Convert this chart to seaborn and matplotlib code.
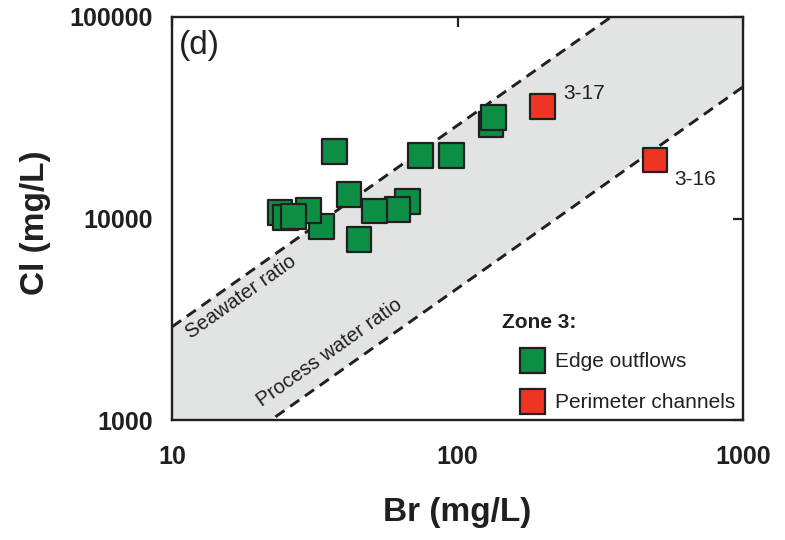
import numpy as np
import pandas as pd
import matplotlib
matplotlib.use("Agg")
import matplotlib.pyplot as plt
import seaborn as sns
from matplotlib.lines import Line2D

# -------------------------
# Data
# -------------------------
EDGE_BR = [37.2, 74.1, 95.5, 41.7, 66.8, 61.8, 51.1, 45.2, 33.3, 30.1,
           23.9, 24.9, 26.6, 131, 134]
EDGE_CL = [21400, 20500, 20500, 13100, 12100, 11100, 10900, 7890, 9100, 11000,
           10700, 10100, 10200, 29400, 31600]

PERIM_BR = [199, 492]
PERIM_CL = [36100, 19500]
PERIM_LABELS = ["3-17", "3-16"]

GROUPS = ["Edge outflows", "Perimeter channels"]
COLORS = {"Edge outflows": "#0c8e44", "Perimeter channels": "#ee3524"}

SEAWATER_RATIO = 290
PROCESS_RATIO = 45
BR_RANGE = [10, 1000]
CL_RANGE = [1000, 100000]

X_TICKS = [10, 100, 1000]
Y_TICKS = [1000, 10000, 100000]

INK = "#231f20"


# -------------------------
# Build table
# -------------------------
def build_frame():

    edge = pd.DataFrame({"Br": EDGE_BR, "Cl": EDGE_CL, "group": GROUPS[0]})
    perim = pd.DataFrame({"Br": PERIM_BR, "Cl": PERIM_CL, "group": GROUPS[1]})

    return pd.concat([edge, perim], ignore_index=True)


# -------------------------
# Plot
# -------------------------
def main():

    sns.set_style("white")
    plt.rcParams["font.family"] = ["Liberation Sans", "DejaVu Sans"]
    plt.rcParams["text.color"] = INK

    df = build_frame()

    fig = plt.figure(figsize=(7.85, 5.40), dpi=100)
    ax = fig.add_axes([172 / 785, 120 / 540, 571 / 785, 403 / 540])

    ax.set_xscale("log")
    ax.set_yscale("log")
    ax.set_xlim(BR_RANGE)
    ax.set_ylim(CL_RANGE)

    # ratio band
    br = np.array(BR_RANGE, dtype=float)
    ax.fill_between(br, PROCESS_RATIO * br, SEAWATER_RATIO * br,
                    color="#e2e3e3", lw=0, zorder=1)
    for ratio in [SEAWATER_RATIO, PROCESS_RATIO]:
        ax.plot(br, ratio * br, color=INK, lw=2.1, ls=(0, (3.8, 2.4)), zorder=2)

    # rotation of the ratio lines on screen
    angle = np.degrees(np.arctan((403 / 2) / (571 / 2)))
    ax.text(17.5, 4080, "Seawater ratio", rotation=angle, fontsize=14.5,
            ha="center", va="center", rotation_mode="anchor", color=INK)
    ax.text(35.7, 2156, "Process water ratio", rotation=angle, fontsize=14.5,
            ha="center", va="center", rotation_mode="anchor", color=INK)

    sns.scatterplot(
        data=df, x="Br", y="Cl", hue="group", palette=COLORS,
        marker="s", s=320, edgecolor=INK, linewidth=1.6,
        legend=False, zorder=3, ax=ax
    )

    # sample labels
    offsets = [(15, 9), (14, -14)]
    for x, y, lab, off in zip(PERIM_BR, PERIM_CL, PERIM_LABELS, offsets):
        ax.annotate(lab, xy=(x, y), xytext=off, textcoords="offset points",
                    ha="left", va="center", fontsize=15, color=INK)

    ax.text(0.012, 0.968, "(d)", transform=ax.transAxes, fontsize=24,
            ha="left", va="top", color=INK)

    # legend
    handles = [
        Line2D([], [], ls="none", marker="s", markersize=18,
               markerfacecolor=COLORS[g], markeredgecolor=INK,
               markeredgewidth=1.6)
        for g in GROUPS
    ]
    ax.legend(handles, GROUPS, loc="upper left",
              bbox_to_anchor=(519 / 785, 1 - 352 / 540),
              bbox_transform=fig.transFigure, frameon=False,
              fontsize=15, borderpad=0, borderaxespad=0,
              handlelength=1.2, handletextpad=0.53, labelspacing=1.06)
    fig.text(502 / 785, 1 - 322 / 540, "Zone 3:", fontsize=15,
             fontweight="bold", ha="left", va="center", color=INK)

    # axes styling
    ax.xaxis.set_major_locator(matplotlib.ticker.FixedLocator(X_TICKS))
    ax.yaxis.set_major_locator(matplotlib.ticker.FixedLocator(Y_TICKS))
    ax.xaxis.set_minor_locator(matplotlib.ticker.NullLocator())
    ax.yaxis.set_minor_locator(matplotlib.ticker.NullLocator())
    ax.set_xticklabels([str(t) for t in X_TICKS], fontweight="bold")
    ax.set_yticklabels([str(t) for t in Y_TICKS], fontweight="bold")

    ax.tick_params(which="major", direction="in", length=7.2, width=1.6,
                   top=True, right=True, labelsize=18, colors=INK)
    ax.tick_params(axis="x", pad=18)
    ax.tick_params(axis="y", pad=14)

    for spine in ax.spines.values():
        spine.set_visible(True)
        spine.set_linewidth(1.7)
        spine.set_color(INK)

    ax.set_xlabel("Br (mg/L)", fontsize=24, fontweight="bold", color=INK)
    ax.set_ylabel("Cl (mg/L)", fontsize=24, fontweight="bold", color=INK)
    ax.xaxis.set_label_coords(0.5, -0.19)
    ax.yaxis.set_label_coords(-0.212, 0.49)

    fig.savefig("out.png", dpi=100)
    print("Chart saved")


if __name__ == "__main__":
    main()
